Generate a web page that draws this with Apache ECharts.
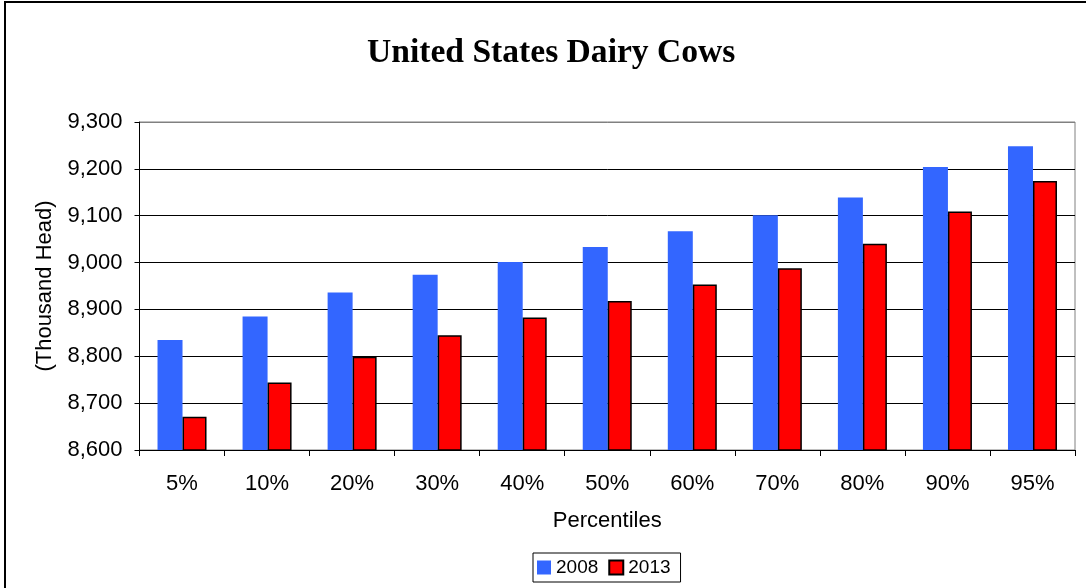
<!DOCTYPE html>
<html>
<head>
<meta charset="utf-8">
<script src="https://cdn.jsdelivr.net/npm/echarts@6/dist/echarts.min.js"></script>
<style>
html,body{margin:0;padding:0;background:#fff;}
#chart{width:1086px;height:588px;}
</style>
</head>
<body>
<div id="chart"></div>
<script>
const categories = ['5%','10%','20%','30%','40%','50%','60%','70%','80%','90%','95%'];
const values2008 = [8835, 8885, 8936, 8974, 9001, 9033, 9067, 9101, 9139, 9204, 9248];
const values2013 = [8671, 8744, 8799, 8845, 8883, 8918, 8953, 8988, 9040, 9109, 9174];
const seriesNames = ['2008', '2013'];

const chart = echarts.init(document.getElementById('chart'), null, {renderer: 'canvas'});
const option = {
  backgroundColor: '#fff',
  animation: false,
  title: {
    text: 'United States Dairy Cows',
    left: 362,
    top: 31,
    textStyle: {fontFamily: 'Liberation Serif', fontWeight: 'bold', fontSize: 33.6, color: '#000'}
  },
  graphic: [{
    type: 'rect',
    shape: {x: 5, y: 2, width: 1200, height: 700},
    style: {fill: 'none', stroke: '#000', lineWidth: 2},
    silent: true
  }],
  legend: {
    data: seriesNames,
    left: 533,
    top: 553,
    icon: 'rect',
    itemWidth: 14,
    itemHeight: 14,
    itemGap: 10,
    padding: [5, 10, 5, 4],
    borderColor: '#000',
    borderWidth: 1,
    textStyle: {fontFamily: 'Liberation Sans', fontSize: 19, color: '#000'}
  },
  grid: {
    left: 139.5,
    right: 11,
    top: 122,
    bottom: 138,
    show: true,
    borderColor: '#808080',
    borderWidth: 1
  },
  xAxis: {
    type: 'category',
    data: categories,
    name: 'Percentiles',
    nameLocation: 'middle',
    nameGap: 60,
    nameTextStyle: {fontFamily: 'Liberation Sans', fontSize: 22, color: '#000'},
    axisLine: {lineStyle: {color: '#000', width: 1}},
    axisTick: {show: true, length: 6, lineStyle: {color: '#000'}},
    axisLabel: {fontFamily: 'Liberation Sans', fontSize: 22, color: '#000', margin: 23}
  },
  yAxis: {
    type: 'value',
    min: 8600,
    max: 9300,
    interval: 100,
    name: '(Thousand Head)',
    nameLocation: 'middle',
    nameGap: 84,
    nameRotate: 90,
    nameTextStyle: {fontFamily: 'Liberation Sans', fontSize: 22, color: '#000'},
    axisLine: {show: true, lineStyle: {color: '#000', width: 1}},
    axisTick: {show: true, length: 5, lineStyle: {color: '#000'}},
    axisLabel: {
      fontFamily: 'Liberation Sans', fontSize: 22, color: '#000', margin: 17,
      formatter: v => v.toLocaleString('en-US')
    },
    splitLine: {show: true, lineStyle: {color: ['#000','#000','#000','#000','#000','#000','#000','#808080'], width: 1}}
  },
  series: [
    {
      name: seriesNames[0],
      type: 'bar',
      data: values2008,
      barWidth: 25,
      barGap: '0%',
      itemStyle: {color: '#3366FF'}
    },
    {
      name: seriesNames[1],
      type: 'bar',
      data: values2013,
      barWidth: 24,
      barGap: '0%',
      itemStyle: {color: '#FF0000', borderColor: '#000', borderWidth: 1.5}
    }
  ]
};
chart.setOption(option);
</script>
</body>
</html>
